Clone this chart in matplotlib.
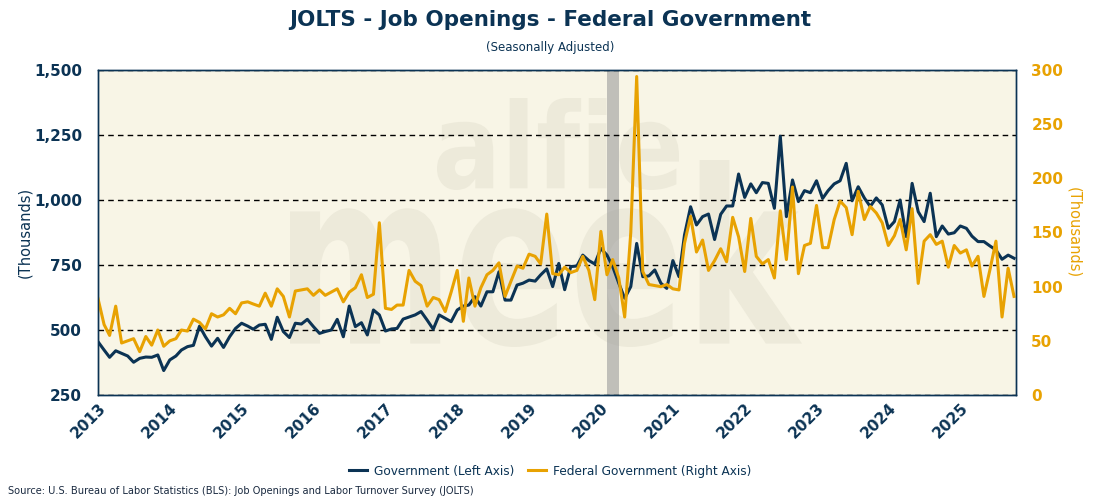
import numpy as np
import pandas as pd
import matplotlib
matplotlib.use('Agg')
import matplotlib.pyplot as plt
import matplotlib.dates as mdates
from matplotlib.ticker import FuncFormatter
from matplotlib.textpath import TextPath
from matplotlib.patches import PathPatch
from matplotlib.font_manager import FontProperties
from matplotlib.transforms import Affine2D
from matplotlib.lines import Line2D

# monthly values, Jan 2013 onwards (thousands)
government = [
    455, 423, 395, 420, 410, 400, 376, 391, 396, 395, 404, 344,
    385, 400, 423, 436, 441, 515, 474, 438, 468, 433, 474, 506,
    526, 515, 503, 519, 522, 464, 549, 494, 471, 526, 523, 541,
    513, 487, 494, 500, 541, 474, 592, 513, 528, 481, 577, 558,
    496, 504, 506, 542, 550, 558, 571, 538, 503, 558, 545, 532,
    577, 592, 596, 628, 592, 647, 647, 724, 615, 615, 673, 680,
    692, 688, 712, 735, 667, 756, 655, 744, 746, 788, 767, 754,
    814, 788, 744, 680, 622, 667, 833, 705, 708, 731, 680, 660,
    767, 705, 865, 974, 904, 936, 946, 848, 945, 977, 977, 1100,
    1010, 1062, 1028, 1067, 1064, 968, 1245, 936, 1077, 994, 1036, 1028,
    1074, 1006, 1036, 1062, 1074, 1141, 997, 1051, 1008, 975, 1008, 981,
    891, 917, 1000, 859, 1064, 955, 917, 1026, 859, 900, 869, 874,
    900, 891, 861, 840, 840, 823, 808, 772, 788, 776,
]
federal = [
    89, 65, 55, 82, 48, 50, 52, 40, 54, 46, 60, 45,
    50, 52, 60, 59, 70, 67, 61, 75, 72, 74, 80, 75,
    85, 86, 84, 82, 94, 82, 98, 91, 72, 96, 97, 98,
    92, 97, 92, 95, 98, 86, 95, 99, 111, 90, 93, 159,
    80, 79, 83, 83, 115, 105, 101, 82, 90, 88, 77, 95,
    115, 68, 108, 82, 99, 111, 115, 122, 91, 105, 119, 117,
    130, 128, 121, 167, 112, 111, 118, 113, 115, 128, 115, 88,
    151, 111, 125, 108, 72, 150, 294, 114, 102, 101, 100, 102,
    98, 97, 140, 165, 132, 143, 115, 124, 135, 123, 164, 146,
    114, 163, 128, 121, 125, 108, 170, 125, 192, 112, 138, 140,
    175, 136, 136, 162, 179, 173, 148, 188, 162, 174, 168, 159,
    138, 147, 162, 134, 172, 103, 142, 148, 139, 142, 118, 138,
    131, 134, 119, 128, 91, 116, 142, 72, 117, 91,
]
left_ticks = [250, 500, 750, 1000, 1250, 1500]
right_ticks = [0, 50, 100, 150, 200, 250, 300]
recession = ('2020-02-01', '2020-04-01')

navy = '#0B3354'
gold = '#E8A202'
cream = '#F8F5E6'

dates = pd.date_range('2013-01-01', periods=len(government), freq='MS')

fig = plt.figure(figsize=(11, 5), dpi=100)
ax = fig.add_axes([98 / 1100, 105 / 500, 918 / 1100, 325 / 500])
ax.set_facecolor(cream)


def watermark(text, x0, x1, ytop, ybot):
    # stretch the word into a pixel box (y measured from top)
    tp = TextPath((0, 0), text, size=100,
                  prop=FontProperties(family='DejaVu Sans', weight='bold'))
    ext = tp.get_extents()
    sx = (x1 - x0) / 1100 / ext.width
    sy = (ybot - ytop) / 500 / ext.height
    tr = (Affine2D().translate(-ext.x0, -ext.y0).scale(sx, sy)
          .translate(x0 / 1100, 1 - ybot / 500) + fig.transFigure)
    ax.add_patch(PathPatch(tp, transform=tr, facecolor='#EDEADA',
                           edgecolor='none', zorder=0.5))


watermark('alfie', 437, 679, 98, 190)
watermark('meek', 290, 802, 160, 347)

ax.axvspan(pd.Timestamp(recession[0]), pd.Timestamp(recession[1]),
           color='#9C9C9C', alpha=0.6, lw=0, zorder=1)

ax.plot(dates, government, color=navy, lw=2.2, zorder=3)
ax.set_ylim(left_ticks[0], left_ticks[-1])
ax.set_yticks(left_ticks)
ax.yaxis.set_major_formatter(FuncFormatter(lambda v, p: f'{v:,.0f}'))
ax.yaxis.grid(True, linestyle=(0, (4, 3)), color='black', lw=1)
ax.set_axisbelow(False)

ax2 = ax.twinx()
ax2.plot(dates, federal, color=gold, lw=2.2)
ax2.set_ylim(right_ticks[0], right_ticks[-1])
ax2.set_yticks(right_ticks)

ax.set_xlim(dates[0], dates[-1] + pd.Timedelta(days=10))
ax.xaxis.set_major_locator(mdates.YearLocator())
ax.xaxis.set_major_formatter(mdates.DateFormatter('%Y'))

for a in (ax, ax2):
    for s in a.spines.values():
        s.set_color(navy)
        s.set_linewidth(1)

ax.tick_params(axis='y', length=0, pad=11.5, labelsize=11, labelcolor=navy)
ax.tick_params(axis='x', length=0, pad=4, labelsize=11, labelcolor=navy)
ax2.tick_params(axis='y', length=0, pad=11, labelsize=11, labelcolor=gold)
for lab in ax.get_yticklabels() + ax.get_xticklabels():
    lab.set_fontweight('bold')
for lab in ax2.get_yticklabels():
    lab.set_fontweight('bold')
for lab in ax.get_xticklabels():
    lab.set_rotation(45)
    lab.set_ha('right')
    lab.set_rotation_mode('anchor')

ax.set_ylabel('(Thousands)', color=navy, fontsize=10.5, labelpad=1)
ax2.set_ylabel('(Thousands)', color=gold, fontsize=10.5, rotation=270, labelpad=13)

fig.text(0.5, 1 - 20 / 500, 'JOLTS - Job Openings - Federal Government',
         ha='center', va='center', fontsize=15.5, fontweight='bold', color=navy)
fig.text(0.5, 1 - 48 / 500, '(Seasonally Adjusted)',
         ha='center', va='center', fontsize=8.5, color=navy)

handles = [Line2D([], [], color=navy, lw=2.2), Line2D([], [], color=gold, lw=2.2)]
fig.legend(handles, ['Government (Left Axis)', 'Federal Government (Right Axis)'],
           loc='center', bbox_to_anchor=(0.5, 1 - 471 / 500), ncol=2, frameon=False,
           fontsize=8.7, labelcolor=navy, handlelength=1.5, handletextpad=0.6,
           columnspacing=1.1)

fig.text(8 / 1100, 1 - 491 / 500,
         'Source: U.S. Bureau of Labor Statistics (BLS): Job Openings and Labor Turnover Survey (JOLTS)',
         ha='left', va='center', fontsize=7.15, color='#1A2A40')

fig.savefig('out.png', dpi=100, facecolor='white')
